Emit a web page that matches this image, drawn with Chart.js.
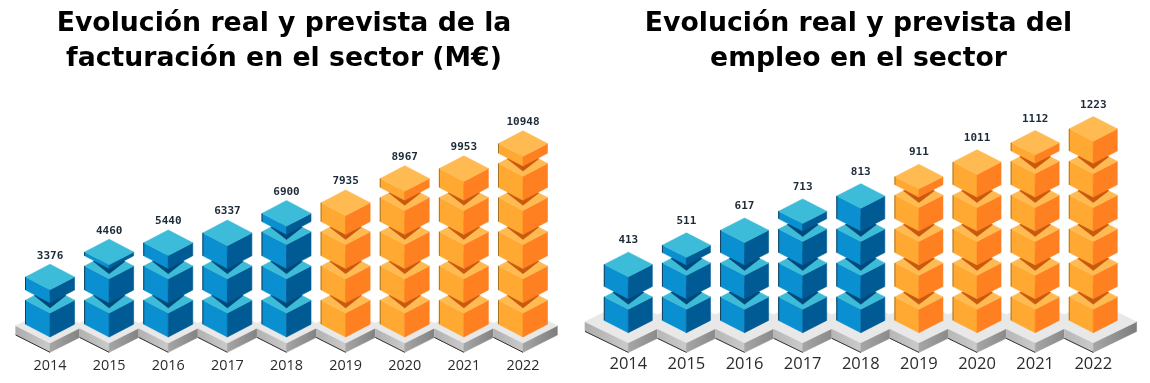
<!DOCTYPE html>
<html>
<head>
<meta charset="utf-8">
<title>Evolución del sector</title>
<script src="https://cdn.jsdelivr.net/npm/chart.js@4"></script>
<style>
    html, body { margin: 0; padding: 0; background: #fff; overflow: hidden; }
    .panel { position: absolute; top: 0; height: 383px; }
</style>
</head>
<body>
<div class="panel" style="left:0;width:568px"><canvas id="chartFacturacion" width="568" height="383"></canvas></div>
<div class="panel" style="left:576px;width:565px"><canvas id="chartEmpleo" width="565" height="383"></canvas></div>

<script>
    const years = ["2014", "2015", "2016", "2017", "2018", "2019", "2020", "2021", "2022"];
    // the first five years are real figures, the rest are forecast
    const realYears = 5;

    const facturacion = [3376, 4460, 5440, 6337, 6900, 7935, 8967, 9953, 10948];
    // how many blocks high each column is drawn in the picture (not quite proportional to the figure)
    const facturacionBlocks = [1.38, 2.11, 2.38, 2.67, 3.24, 3.55, 4.26, 4.55, 5.28];

    const empleo = [413, 511, 617, 713, 813, 911, 1011, 1112, 1223];
    const empleoBlocks = [1.65, 2.22, 2.66, 3.22, 3.67, 4.24, 4.67, 5.24, 5.65];

    const blue = { left: "#0a8fd0", right: "#005b94", top: "#3cbcd8", shadow: "#00487a", edge: "#12405e" };
    const orange = { left: "#ffa933", right: "#ff8021", top: "#ffbb52", shadow: "#c8590f", edge: "#a8741f" };

    function poly(ctx, points, fill) {
        ctx.beginPath();
        points.forEach(function (p, i) {
            if (i == 0) { ctx.moveTo(p[0], p[1]); } else { ctx.lineTo(p[0], p[1]); }
        });
        ctx.closePath();
        ctx.fillStyle = fill;
        ctx.fill();
        // thin stroke in the same colour, otherwise white shows in the seams between faces
        ctx.strokeStyle = fill;
        ctx.lineWidth = 0.6;
        ctx.stroke();
    }

    function sideGradient(ctx, x0, x1, c0, c1) {
        let g = ctx.createLinearGradient(x0, 0, x1, 0);
        g.addColorStop(0, c0);
        g.addColorStop(1, c1);
        return g;
    }

    function drawSlab(ctx, cx, cy, o) {
        let leftFill = sideGradient(ctx, cx - o.slabW, cx, "#adadad", "#cbcbcb");
        let rightFill = sideGradient(ctx, cx, cx + o.slabW, "#a6a6a6", "#7d7d7d");
        poly(ctx, [[cx - o.slabW, cy], [cx, cy + o.slabH], [cx, cy + o.slabH + o.slabT], [cx - o.slabW, cy + o.slabT]], leftFill);
        poly(ctx, [[cx + o.slabW, cy], [cx, cy + o.slabH], [cx, cy + o.slabH + o.slabT], [cx + o.slabW, cy + o.slabT]], rightFill);
    }

    // one block, b is the y of its lowest vertex and h the height of its sides
    function drawCube(ctx, cx, b, h, o, c, hasBlockAbove) {
        let hw = o.halfWidth, dh = o.halfDepth;
        poly(ctx, [[cx - hw, b - dh - h], [cx, b - h], [cx, b], [cx - hw, b - dh]], c.left);
        poly(ctx, [[cx + hw, b - dh - h], [cx, b - h], [cx, b], [cx + hw, b - dh]], c.right);
        let mid = b - h - dh;
        poly(ctx, [[cx, mid - dh], [cx + hw, mid], [cx, mid + dh], [cx - hw, mid]], c.top);
        if (hasBlockAbove) {
            // shadow of the next block, it runs out to the notches at both sides
            let nx = hw * 0.64, ny = mid - dh * 0.36;
            poly(ctx, [[cx, mid + dh * 0.6], [cx + nx, ny], [cx, mid - dh], [cx - nx, ny]], c.shadow);
        }
        ctx.beginPath();
        ctx.moveTo(cx - hw, b - dh - h);
        ctx.lineTo(cx - hw, b - dh);
        ctx.strokeStyle = c.edge;
        ctx.lineWidth = 1;
        ctx.stroke();
    }

    const isoBlocks = {
        id: "isoBlocks",
        afterDatasetsDraw: function (chart, args, o) {
            let ctx = chart.ctx;
            let bars = chart.getDatasetMeta(0).data;
            let step = bars[1].x - bars[0].x;
            let base = bars[0].base;

            // floor tiles first, each one cut at the valley between two columns
            let slabY = base - o.slabUp;
            bars.forEach(function (bar, i) {
                ctx.save();
                ctx.beginPath();
                let from = i == 0 ? 0 : bar.x - step / 2;
                let to = i == bars.length - 1 ? chart.width : bar.x + step / 2;
                ctx.rect(from, 0, to - from, chart.height);
                ctx.clip();
                drawSlab(ctx, bar.x, slabY, o);
                ctx.restore();
            });
            bars.forEach(function (bar) {
                poly(ctx, [[bar.x, slabY - o.slabH], [bar.x + o.slabW, slabY], [bar.x, slabY + o.slabH], [bar.x - o.slabW, slabY]], "#e8e8e8");
            });
            // dark line along the lower left of the floor
            ctx.beginPath();
            bars.forEach(function (bar, i) {
                let valley = (o.slabW - step / 2) / o.slabW * o.slabH;
                ctx.moveTo(i == 0 ? bar.x - o.slabW : bar.x - step / 2, i == 0 ? slabY + o.slabT : slabY + o.slabT + valley);
                ctx.lineTo(bar.x, slabY + o.slabH + o.slabT);
            });
            ctx.strokeStyle = "#333333";
            ctx.lineWidth = 1;
            ctx.stroke();

            bars.forEach(function (bar, i) {
                let c = i < realYears ? blue : orange;
                let pitch = o.pitch;
                let level = (base - bar.y) / pitch;
                let count = Math.ceil(level);
                let top = 0;
                for (let n = 0; n < count; n++) {
                    let b = base - n * pitch;
                    let h = Math.min(o.sideHeight, (level - n) * pitch);
                    drawCube(ctx, bar.x, b, h, o, c, n < count - 1);
                    top = b - h - 2 * o.halfDepth;
                }
                ctx.font = o.labelFont;
                ctx.fillStyle = "#1d2b38";
                ctx.textAlign = "center";
                ctx.textBaseline = "middle";
                ctx.fillText(o.values[i], bar.x, top - o.labelGap);
            });
        }
    };

    // empty side axis, only there to hold the plot off the canvas edge
    // (layout padding would also narrow the box the title is centred in)
    function spacerAxis(position, width) {
        return {
            display: true,
            position: position,
            min: 0,
            max: 6,
            grid: { display: false },
            border: { display: false },
            ticks: { display: false },
            afterFit: function (scale) { scale.width = width; }
        };
    }

    function generateChart(canvasId, titleLines, values, blocks, o) {
        return new Chart(document.getElementById(canvasId), {
            type: "bar",
            data: {
                labels: years,
                datasets: [{ data: blocks, backgroundColor: "rgba(0,0,0,0)", borderWidth: 0, yAxisID: "y" }]
            },
            plugins: [isoBlocks],
            options: {
                responsive: false,
                animation: false,
                scales: {
                    x: {
                        grid: { display: false },
                        border: { display: false },
                        afterFit: function (scale) { scale.height = 383 - o.baseY; },
                        ticks: {
                            padding: o.tickPad,
                            color: "#2b2b2b",
                            maxRotation: 0,
                            autoSkip: false,
                            font: { family: "'Open Sans'", size: o.tickSize }
                        }
                    },
                    y: spacerAxis("left", o.spaceLeft),
                    y2: spacerAxis("right", o.spaceRight)
                },
                plugins: {
                    legend: { display: false },
                    tooltip: { enabled: false },
                    title: {
                        display: true,
                        text: titleLines,
                        color: "#000000",
                        font: { family: "'DejaVu Sans'", weight: "bold", size: 26.7, lineHeight: 35 / 26.7 },
                        padding: { top: 6.5, bottom: o.baseY - 6 * o.pitch - 76.5 }
                    },
                    isoBlocks: {
                        values: values,
                        pitch: o.pitch,
                        halfWidth: o.halfWidth,
                        halfDepth: o.halfDepth,
                        sideHeight: o.sideHeight,
                        slabW: o.slabW,
                        slabH: o.slabH,
                        slabT: o.slabT,
                        slabUp: o.slabUp,
                        labelFont: "bold 11px 'DejaVu Sans Mono'",
                        labelGap: o.labelGap
                    }
                }
            }
        });
    }

    generateChart("chartFacturacion",
        ["Evolución real y prevista de la", "facturación en el sector (M€)"],
        facturacion, facturacionBlocks,
        {
            spaceLeft: 20.45, spaceRight: 15.45, baseY: 337, pitch: 34.2,
            halfWidth: 24.5, halfDepth: 12.8, sideHeight: 24,
            slabW: 34.3, slabH: 17.3, slabT: 9.3, slabUp: 11.3,
            tickPad: 12, tickSize: 14.4, labelGap: 8.5
        });

    generateChart("chartEmpleo",
        ["Evolución real y prevista del", "empleo en el sector"],
        empleo, empleoBlocks,
        {
            spaceLeft: 23.25, spaceRight: 18.65, baseY: 332.7, pitch: 33.9,
            halfWidth: 24, halfDepth: 12.3, sideHeight: 23.5,
            slabW: 43.3, slabH: 21, slabT: 9.7, slabUp: 11,
            tickPad: 14, tickSize: 16.5, labelGap: 11.8
        });
</script>
</body>
</html>
